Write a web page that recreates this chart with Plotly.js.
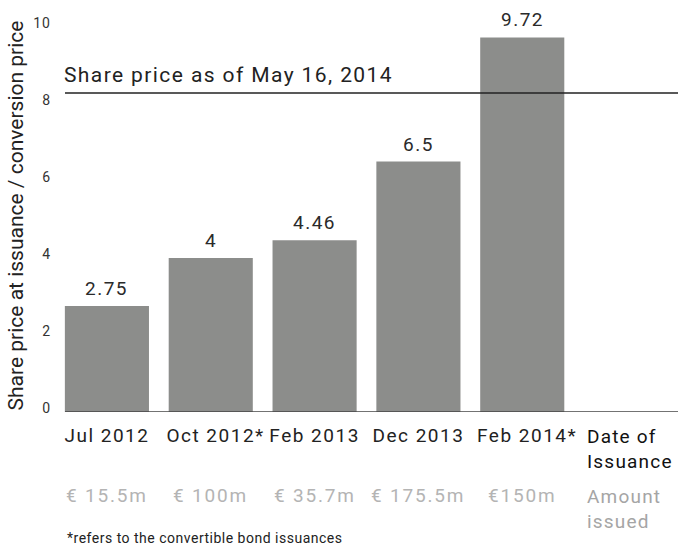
<!DOCTYPE html>
<html>
<head>
<meta charset="utf-8">
<script src="https://cdn.plot.ly/plotly-3.0.1.min.js"></script>
<style>html,body{margin:0;padding:0;background:#fff;}#chart{width:678px;height:548px;}</style>
</head>
<body>
<div id="chart"></div>
<script>
// ---- data ----
const categories = ["Jul 2012", "Oct 2012", "Feb 2013", "Dec 2013", "Feb 2014"];
const convertible = [false, true, false, false, true];
const prices = [2.75, 4, 4.46, 6.5, 9.72];
const priceLabels = ["2.75", "4", "4.46", "6.5", "9.72"];
const amounts = ["€ 15.5m", "€ 100m", "€ 35.7m", "€ 175.5m", "€150m"];
const sharePrice = [8.28];
const sharePriceLabel = "Share price as of May 16, 2014";
const yTicks = [0, 2, 4, 6, 8, 10];
const yTitle = "Share price at issuance / conversion price";
const dateRowLabel = ["Date of", "Issuance"];
const amountRowLabel = ["Amount", "issued"];
const footnote = "*refers to the convertible bond issuances";

const FONT = "Roboto, 'Liberation Sans', Arial, sans-serif";

// wrap text in a span with letter spacing (per line)
function ls(lines, px) {
  const arr = Array.isArray(lines) ? lines : [lines];
  return arr.map(t => "<span style='letter-spacing:" + px + "px'>" + t + "</span>").join("<br>");
}

const tickText = categories.map((c, i) =>
  convertible[i]
    ? "<span style='letter-spacing:1.5px'><span style='color:rgba(255,255,255,0)'>*</span>" + c + "*</span>"
    : ls(c, 1.5));

const bar = {
  type: "bar",
  x: categories,
  y: prices,
  marker: { color: "#8c8d8b" },
  hoverinfo: "none"
};

const annotations = [];
categories.forEach((c, i) => {
  annotations.push({
    x: c, y: prices[i], xref: "x", yref: "y",
    text: ls(priceLabels[i], 1.5), showarrow: false,
    yanchor: "bottom", yshift: 4,
    font: { family: FONT, size: 19, color: "#2a2a2a" }
  });
  annotations.push({
    x: c, y: -0.2137, xref: "x", yref: "paper",
    text: ls(amounts[i], 1.8), showarrow: false,
    yanchor: "middle",
    font: { family: FONT, size: 19, color: "#b4b4b4" }
  });
});
annotations.push({
  x: 0.851, y: -0.094, xref: "paper", yref: "paper",
  text: ls(dateRowLabel, 1.2), showarrow: false, xanchor: "left", yanchor: "middle", align: "left",
  font: { family: FONT, size: 19, color: "#111" }
});
annotations.push({
  x: 0.851, y: -0.247, xref: "paper", yref: "paper",
  text: ls(amountRowLabel, 1.2), showarrow: false, xanchor: "left", yanchor: "middle", align: "left",
  font: { family: FONT, size: 19, color: "#a5a5a5" }
});
annotations.push({
  x: 0.016, y: -0.3206, xref: "paper", yref: "paper",
  text: ls(footnote, 0.5), showarrow: false, xanchor: "left", yanchor: "middle",
  font: { family: FONT, size: 14, color: "#222" }
});
annotations.push({
  x: 0.011, y: sharePrice[0], xref: "paper", yref: "y",
  text: ls(sharePriceLabel, 1.4), showarrow: false, xanchor: "left", yanchor: "bottom", yshift: 4,
  font: { family: FONT, size: 21, color: "#222" }
});

const layout = {
  width: 678, height: 548,
  margin: { l: 55, r: 0, t: 19, b: 136 },
  paper_bgcolor: "#fff", plot_bgcolor: "#fff",
  showlegend: false,
  bargap: 0.19,
  font: { family: FONT, color: "#222" },
  xaxis: {
    type: "category",
    range: [-0.5, 5.5],
    tickvals: categories,
    ticktext: tickText,
    showgrid: false, zeroline: false, showline: false,
    ticks: "", ticklabelstandoff: 10,
    tickfont: { family: FONT, size: 19, color: "#222" },
    fixedrange: true
  },
  yaxis: {
    range: [0, 10.2],
    tickvals: yTicks,
    ticktext: yTicks.map(v => ls(String(v), 1)),
    showgrid: false, zeroline: false, showline: false,
    ticks: "", ticklabelstandoff: 3, ticklabelshift: -4,
    tickfont: { family: FONT, size: 14, color: "#333" },
    title: { text: yTitle, standoff: 3, font: { family: FONT, size: 21, color: "#222" } },
    fixedrange: true
  },
  shapes: [
    { type: "line", xref: "paper", yref: "y", x0: 0.016, x1: 1, y0: sharePrice[0], y1: sharePrice[0],
      line: { color: "#222", width: 1.3 } },
    { type: "line", xref: "paper", yref: "y", x0: 0.016, x1: 1, y0: 0, y1: 0,
      line: { color: "#444", width: 1.5 } }
  ],
  annotations: annotations
};

Plotly.newPlot("chart", [bar], layout, { staticPlot: true, displayModeBar: false });
</script>
</body>
</html>
